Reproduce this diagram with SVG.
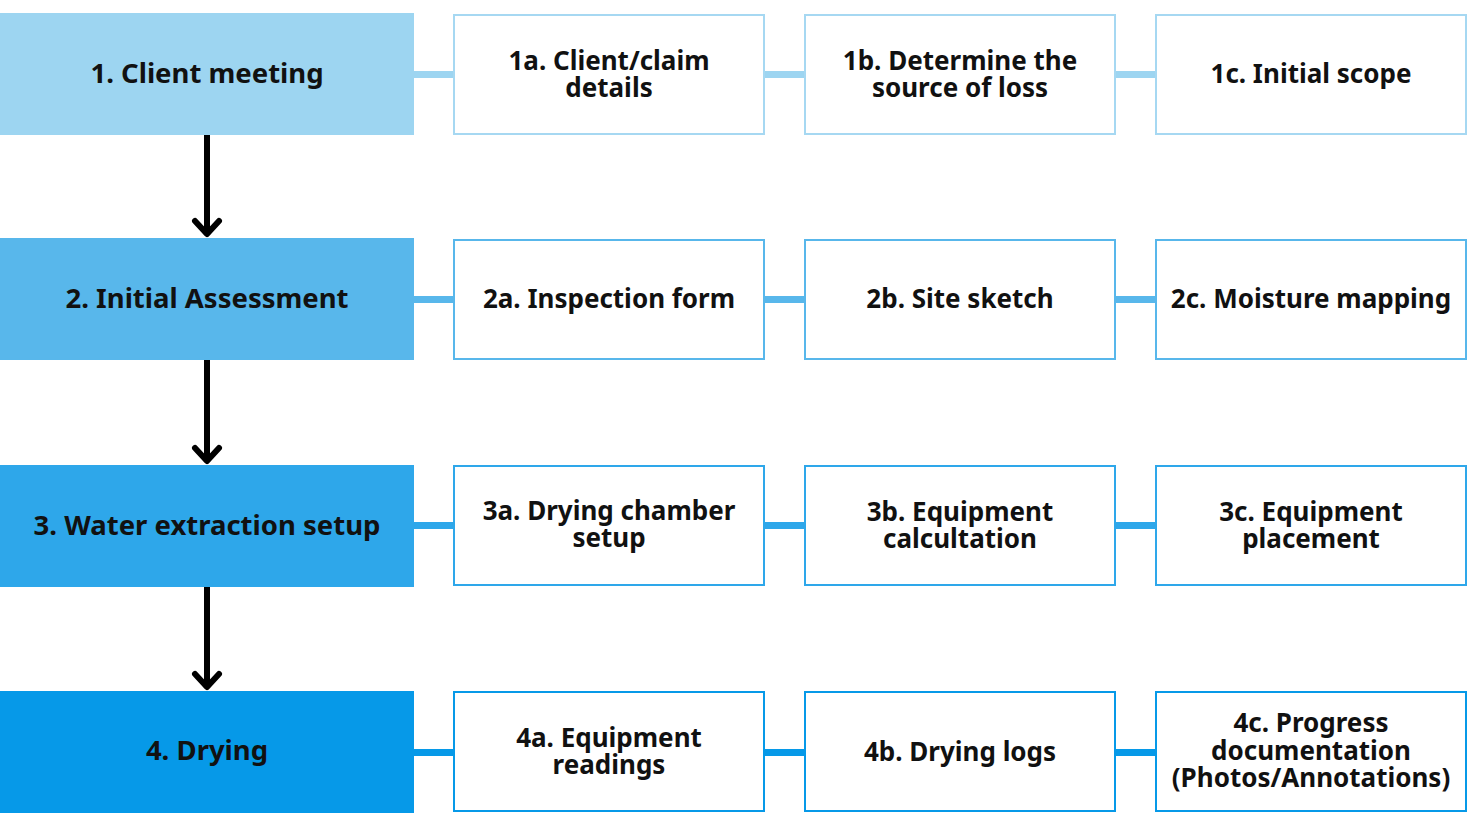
<svg xmlns="http://www.w3.org/2000/svg" width="1467" height="826" viewBox="0 0 1467 826">
<style>
  text { font-family: "Noto Sans", "DejaVu Sans", sans-serif; font-weight: 700; font-size: 26px; fill: #111; text-anchor: middle; }
  text.main { font-size: 27.5px; }
  .sub { fill: #fff; stroke-width: 2; }
  .r1 { fill: #9DD5F1; } .r2 { fill: #58B7EB; } .r3 { fill: #2EA7EA; } .r4 { fill: #0699E8; }
  .s1 { stroke: #A6D8F2; } .s2 { stroke: #58B7EB; } .s3 { stroke: #2EA7EA; } .s4 { stroke: #0699E8; }
  .arrow { stroke: #000; stroke-width: 6; fill: none; }
  .head { stroke: #000; stroke-width: 6; fill: none; stroke-linecap: round; stroke-linejoin: round; }
</style>
<rect width="1467" height="826" fill="#fff"/>
<g id="connectors">
  <rect class="r1" x="414" y="71" width="40" height="7"/>
  <rect class="r1" x="764" y="71" width="40" height="7"/>
  <rect class="r1" x="1115" y="71" width="40" height="7"/>
  <rect class="r2" x="414" y="296" width="40" height="7"/>
  <rect class="r2" x="764" y="296" width="40" height="7"/>
  <rect class="r2" x="1115" y="296" width="40" height="7"/>
  <rect class="r3" x="414" y="522" width="40" height="7"/>
  <rect class="r3" x="764" y="522" width="40" height="7"/>
  <rect class="r3" x="1115" y="522" width="40" height="7"/>
  <rect class="r4" x="414" y="749" width="40" height="7"/>
  <rect class="r4" x="764" y="749" width="40" height="7"/>
  <rect class="r4" x="1115" y="749" width="40" height="7"/>
  <line class="arrow" x1="207" y1="135" x2="207" y2="235"/>
  <polyline class="head" points="195,221 207,234 219,221"/>
  <line class="arrow" x1="207" y1="360" x2="207" y2="462"/>
  <polyline class="head" points="195,448 207,461 219,448"/>
  <line class="arrow" x1="207" y1="587" x2="207" y2="688"/>
  <polyline class="head" points="195,674 207,687 219,674"/>
</g>
<g id="n1"><rect class="r1" x="0" y="13" width="414" height="122"/><text class="main" x="207" y="83">1. Client meeting</text></g>
<g id="n1a"><rect class="sub s1" x="454" y="15" width="310" height="119"/><text x="609" y="70">1a. Client/claim</text><text x="609" y="97">details</text></g>
<g id="n1b"><rect class="sub s1" x="805" y="15" width="310" height="119"/><text x="960" y="70">1b. Determine the</text><text x="960" y="97">source of loss</text></g>
<g id="n1c"><rect class="sub s1" x="1156" y="15" width="310" height="119"/><text x="1311" y="83">1c. Initial scope</text></g>

<g id="n2"><rect class="r2" x="0" y="238" width="414" height="122"/><text class="main" x="207" y="308">2. Initial Assessment</text></g>
<g id="n2a"><rect class="sub s2" x="454" y="240" width="310" height="119"/><text x="609" y="308">2a. Inspection form</text></g>
<g id="n2b"><rect class="sub s2" x="805" y="240" width="310" height="119"/><text x="960" y="308">2b. Site sketch</text></g>
<g id="n2c"><rect class="sub s2" x="1156" y="240" width="310" height="119"/><text x="1311" y="308">2c. Moisture mapping</text></g>

<g id="n3"><rect class="r3" x="0" y="465" width="414" height="122"/><text class="main" x="207" y="535">3. Water extraction setup</text></g>
<g id="n3a"><rect class="sub s3" x="454" y="466" width="310" height="119"/><text x="609" y="520">3a. Drying chamber</text><text x="609" y="547">setup</text></g>
<g id="n3b"><rect class="sub s3" x="805" y="466" width="310" height="119"/><text x="960" y="521">3b. Equipment</text><text x="960" y="548">calcultation</text></g>
<g id="n3c"><rect class="sub s3" x="1156" y="466" width="310" height="119"/><text x="1311" y="521">3c. Equipment</text><text x="1311" y="548">placement</text></g>

<g id="n4"><rect class="r4" x="0" y="691" width="414" height="122"/><text class="main" x="207" y="760">4. Drying</text></g>
<g id="n4a"><rect class="sub s4" x="454" y="692" width="310" height="119"/><text x="609" y="747">4a. Equipment</text><text x="609" y="774">readings</text></g>
<g id="n4b"><rect class="sub s4" x="805" y="692" width="310" height="119"/><text x="960" y="761">4b. Drying logs</text></g>
<g id="n4c"><rect class="sub s4" x="1156" y="692" width="310" height="119"/><text x="1311" y="732">4c. Progress</text><text x="1311" y="760">documentation</text><text x="1311" y="787">(Photos/Annotations)</text></g>
</svg>
